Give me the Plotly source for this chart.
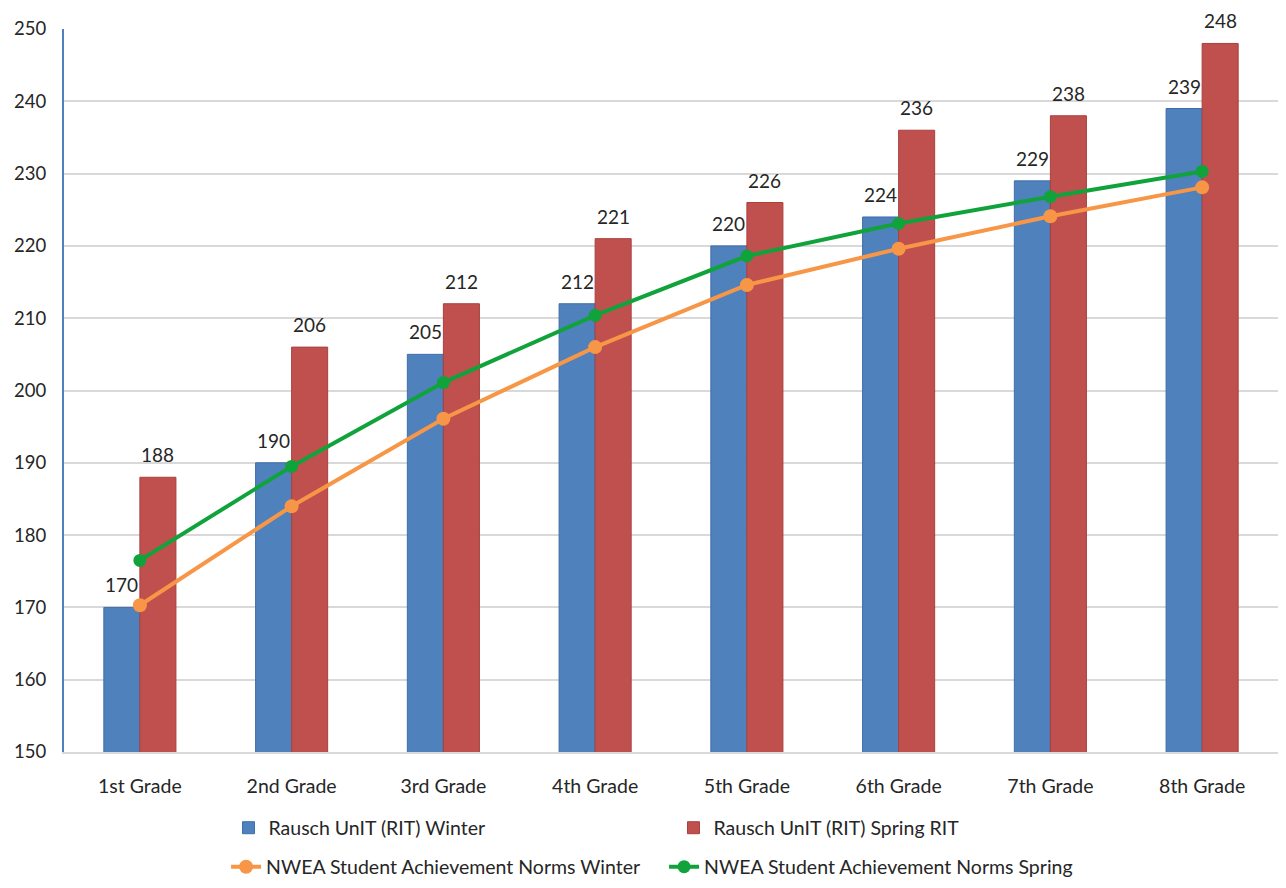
import plotly.graph_objects as go

grades = ["1st Grade", "2nd Grade", "3rd Grade", "4th Grade",
          "5th Grade", "6th Grade", "7th Grade", "8th Grade"]
rit_winter = [170, 190, 205, 212, 220, 224, 229, 239]
rit_spring = [188, 206, 212, 221, 226, 236, 238, 248]
norms_winter = [170.3, 184.0, 196.1, 206.0, 214.6, 219.6, 224.1, 228.1]
norms_spring = [176.5, 189.5, 201.1, 210.4, 218.6, 223.1, 226.8, 230.3]

FONT = "Lato"
TXT = "#262626"

fig = go.Figure()
fig.add_trace(go.Bar(
    x=grades, y=rit_winter, name="Rausch UnIT (RIT) Winter",
    marker=dict(color="#4f81bd", line=dict(color="#3f6ea8", width=1)),
    legend="legend",
))
fig.add_trace(go.Bar(
    x=grades, y=rit_spring, name="Rausch UnIT (RIT) Spring RIT",
    marker=dict(color="#c0504d", line=dict(color="#a8403d", width=1)),
    legend="legend",
))
fig.add_trace(go.Scatter(
    x=grades, y=norms_winter, name="NWEA Student Achievement Norms Winter",
    mode="lines+markers",
    line=dict(color="#f79646", width=4),
    marker=dict(color="#f79646", size=14),
    legend="legend2",
))
fig.add_trace(go.Scatter(
    x=grades, y=norms_spring, name="NWEA Student Achievement Norms Spring",
    mode="lines+markers",
    line=dict(color="#11a33b", width=4),
    marker=dict(color="#11a33b", size=13),
    legend="legend2",
))

annotations = []
for g, w, s in zip(grades, rit_winter, rit_spring):
    annotations.append(dict(x=g, y=w, text=str(w), xref="x", yref="y",
                            showarrow=False, xshift=-18, yshift=9,
                            yanchor="bottom",
                            font=dict(family=FONT, size=19, color=TXT)))
    annotations.append(dict(x=g, y=s, text=str(s), xref="x", yref="y",
                            showarrow=False, xshift=18, yshift=9,
                            yanchor="bottom",
                            font=dict(family=FONT, size=19, color=TXT)))

fig.update_layout(
    width=1270, height=872,
    margin=dict(l=56, r=0, t=21, b=128, autoexpand=False),
    paper_bgcolor="white", plot_bgcolor="white",
    barmode="group", bargap=0.525, bargroupgap=0,
    font=dict(family=FONT, size=18, color=TXT),
    annotations=annotations,
    showlegend=True,
    legend=dict(
        orientation="h", x=0.1355, xanchor="left",
        yref="container", y=0.0596, yanchor="middle",
        entrywidth=400, traceorder="normal",
        font=dict(family=FONT, size=19.5, color=TXT),
    ),
    legend2=dict(
        orientation="h", x=0.1335, xanchor="left",
        yref="container", y=0.0149, yanchor="middle",
        entrywidth=393, traceorder="normal",
        font=dict(family=FONT, size=19.5, color=TXT),
    ),
    xaxis=dict(
        showline=True, linecolor="#d9d9d9", linewidth=1.5,
        ticks="", showgrid=False, ticklabelstandoff=16,
        tickfont=dict(family=FONT, size=19.5, color=TXT),
    ),
    yaxis=dict(
        range=[150, 250], dtick=10,
        showgrid=True, gridcolor="#d9d9d9", gridwidth=1.5,
        showline=True, linecolor="#4f81bd", linewidth=2,
        zeroline=False, ticks="", ticklabelstandoff=12,
        tickfont=dict(family=FONT, size=18.5, color=TXT),
    ),
)

fig.write_html("out.html")
